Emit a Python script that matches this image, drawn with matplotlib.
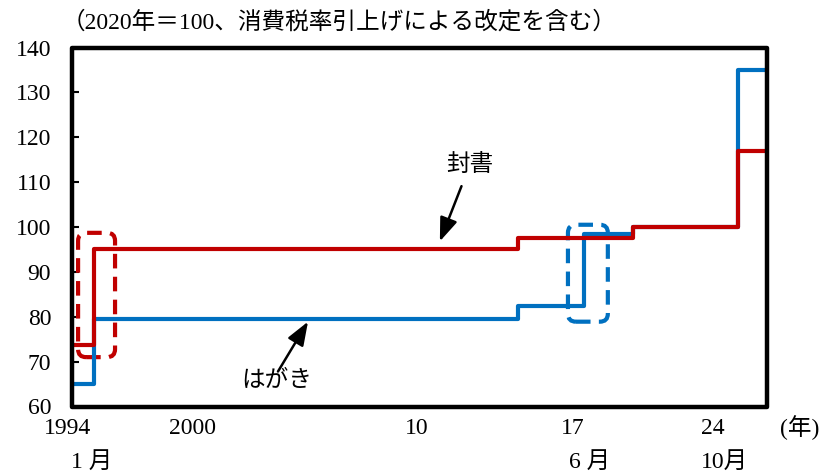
import matplotlib
matplotlib.use("Agg")
import matplotlib.pyplot as plt
from matplotlib.patches import FancyBboxPatch, Rectangle
from matplotlib.transforms import blended_transform_factory

# ---- data (index, 2020 = 100) ----
hagaki_dates = [1993.0, 1994 + 1 / 12, 2014.25, 2017 + 5 / 12, 2019.75, 2024.75]
hagaki_values = [65.1, 79.4, 82.5, 98.4, 100.0, 134.9]

fusho_dates = [1993.0, 1994 + 1 / 12, 2014.25, 2019.75, 2024.75]
fusho_values = [73.8, 95.2, 97.6, 100.0, 117.0]

last_month = 2026.04

year_labels = ["1994", "2000", "10", "17", "24"]
year_label_x = [1992.84, 1998.79, 2009.46, 2016.89, 2023.55]
month_labels = ["1 月", "6 月", "10月"]
month_label_x = [1993.98, 2017.70, 2024.13]

y_ticks = [60, 70, 80, 90, 100, 110, 120, 130, 140]

RED = "#C00000"
BLUE = "#0070C0"
FAM = ["Liberation Serif", "Noto Sans CJK JP"]
JP = ["Noto Sans CJK JP", "DejaVu Sans"]

plt.rcParams["font.family"] = FAM

W, H = 827, 475
fig = plt.figure(figsize=(W / 100, H / 100), dpi=100)
x0, x1, ytop, ybot = 72, 767, 47.5, 406.5
ax = fig.add_axes([x0 / W, 1 - ybot / H, (x1 - x0) / W, (ybot - ytop) / H])

xmin, xmax = 1993.03, 2026.13
ymin, ymax = 60, 140
ax.set_xlim(xmin, xmax)
ax.set_ylim(ymin, ymax)

# step lines
ax.step(hagaki_dates + [last_month], hagaki_values + [hagaki_values[-1]],
        where="post", color=BLUE, lw=3.0, solid_capstyle="round",
        solid_joinstyle="round", zorder=3)
ax.step(fusho_dates + [last_month], fusho_values + [fusho_values[-1]],
        where="post", color=RED, lw=3.0, solid_capstyle="round",
        solid_joinstyle="round", zorder=4)

# dashed rounded boxes around the rate changes
px_x = (x1 - x0) / (xmax - xmin)
px_y = (ybot - ytop) / (ymax - ymin)
aspect = px_x / px_y
r = 8 / px_x


def dashed_box(xa, xb, ya, yb, color):
    box = FancyBboxPatch((xa, ya), xb - xa, yb - ya,
                         boxstyle=f"round,pad=0,rounding_size={r}",
                         mutation_aspect=aspect, fill=False, ec=color,
                         lw=3.0, ls=(0, (3.5, 2.0)), zorder=2)
    ax.add_patch(box)


dashed_box(1993.32, 1995.08, 71.0, 98.7, RED)
dashed_box(2016.65, 2018.55, 78.9, 100.5, BLUE)

# labels with arrows
arrow = dict(arrowstyle="-|>,head_length=0.72,head_width=0.27", color="black",
             lw=1.8, mutation_scale=20, shrinkA=0, shrinkB=0)
ax.annotate("", xy=(2010.55, 96.8), xytext=(2011.58, 109.1), arrowprops=arrow, zorder=5)
ax.text(2011.98, 113.9, "封書", family=JP, fontsize=17, ha="center", va="center")
ax.annotate("", xy=(2004.27, 78.9), xytext=(2002.84, 67.8), arrowprops=arrow, zorder=5)
ax.text(2002.79, 65.9, "はがき", family=JP, fontsize=17, ha="center", va="center")

# frame
for s in ax.spines.values():
    s.set_visible(False)
ax.add_patch(Rectangle((0, 0), 1, 1, transform=ax.transAxes, fill=False,
                       ec="black", lw=3.2, joinstyle="round", zorder=6,
                       clip_on=False))

# axes ticks
ax.set_yticks(y_ticks)
ax.set_yticklabels([str(v) for v in y_ticks])
ax.tick_params(axis="y", direction="in", length=5, width=1.5, pad=15,
               labelsize=17, left=True, right=False)
ax.set_xticks([])

tr = blended_transform_factory(ax.transData, fig.transFigure)
for lab, xv in zip(year_labels, year_label_x):
    ax.text(xv, 1 - 428 / H, lab, transform=tr, ha="center", va="center",
            fontsize=17, clip_on=False)
for lab, xv in zip(month_labels, month_label_x):
    ax.text(xv, 1 - 462 / H, lab, transform=tr, ha="center", va="center",
            fontsize=17, clip_on=False)
ax.text(2027.7, 1 - 428 / H, "(年)", transform=tr, ha="center", va="center",
        fontsize=17, clip_on=False)

fig.text(62 / W, 1 - 22 / H, "（2020年＝100、消費税率引上げによる改定を含む）",
         ha="left", va="center", fontsize=17)

fig.savefig("out.png", dpi=100)
